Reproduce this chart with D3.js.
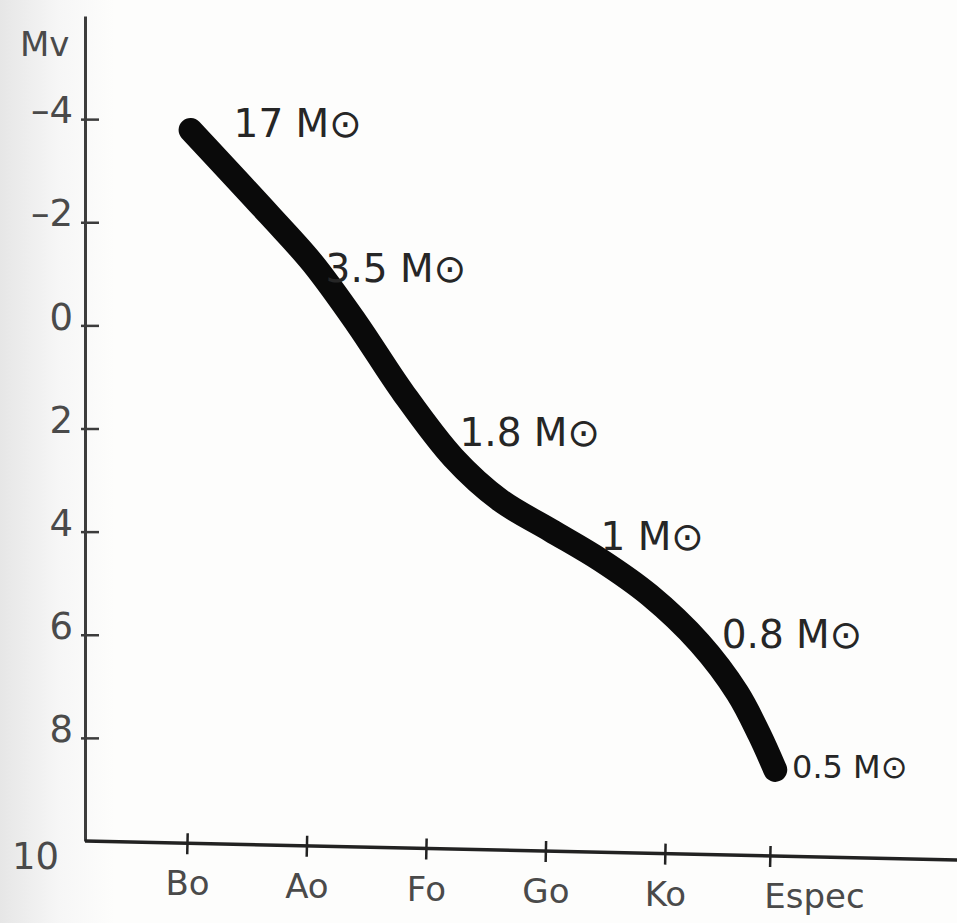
<!DOCTYPE html>
<html>
<head>
<meta charset="utf-8">
<script src="https://cdn.jsdelivr.net/npm/d3@7"></script>
<style>
  html, body { margin: 0; padding: 0; background: #fdfdfc; }
  svg { display: block; }
  .tick-label, .axis text { font-family: "DejaVu Sans", sans-serif; fill: #4a4a4a; }
  .mass-label { font-family: "DejaVu Sans", sans-serif; fill: #262626; }
</style>
</head>
<body>
<svg id="chart"></svg>
<script>
// spectral types on the x axis (index 0..5)
const specTypes = ["Bo", "Ao", "Fo", "Go", "Ko", "Espec"];
const specIdx = [0, 1, 2, 3, 4, 5];

// absolute magnitude ticks
const mvTicks = [-4, -2, 0, 2, 4, 6, 8, 10];

// main sequence curve (spectral index, Mv)
const curveIdx = [0.03, 0.69, 1.05, 1.42, 1.81, 2.23, 2.62, 3.04, 3.46, 3.87, 4.33, 4.69, 4.90, 5.05];
const curveMv  = [-3.79, -2.14, -1.21, -0.04, 1.31, 2.57, 3.39, 3.97, 4.55, 5.23, 6.16, 7.13, 7.94, 8.62];

// mass annotations along the curve
const masses   = ["17 M⊙", "3.5 M⊙", "1.8 M⊙", "1 M⊙", "0.8 M⊙", "0.5 M⊙"];
const labelIdx = [0.39, 1.16, 2.28, 3.46, 4.54, 5.21];
const labelMv  = [-3.65, -0.84, 2.34, 4.36, 6.26, 8.78];

const W = 957, H = 923;

const svg = d3.select("#chart")
  .attr("width", W)
  .attr("height", H)
  .attr("viewBox", `0 0 ${W} ${H}`);

// scanned-paper shading on the left edge
const defs = svg.append("defs");
const shade = defs.append("linearGradient").attr("id", "paper");
shade.append("stop").attr("offset", "0%").attr("stop-color", "#e6e6e6");
shade.append("stop").attr("offset", "6%").attr("stop-color", "#f6f6f6");
shade.append("stop").attr("offset", "12%").attr("stop-color", "#fdfdfc");
shade.append("stop").attr("offset", "100%").attr("stop-color", "#fdfdfc");
svg.append("rect").attr("width", W).attr("height", H).attr("fill", "url(#paper)");

// hand-drawn ticks are a bit uneven, so x is piecewise
const x = d3.scaleLinear().domain([0, 4, 5]).range([187, 665, 770]);
const y = d3.scaleLinear().domain([-6, 10]).range([16, 841]);

const x0 = 85;

// y axis
const yAxis = svg.append("g")
  .attr("class", "axis")
  .attr("transform", `translate(${x0},0)`)
  .call(d3.axisLeft(y)
    .tickValues(mvTicks)
    .tickSizeInner(-14)
    .tickSizeOuter(0)
    .tickPadding(12)
    .tickFormat(d => d < 0 ? "\u2013" + Math.abs(d) : d));

yAxis.select(".domain").attr("stroke", "#3c3c3c").attr("stroke-width", 3);
yAxis.selectAll(".tick line").attr("stroke", "#3c3c3c").attr("stroke-width", 2.5)
  .attr("x1", -4);
yAxis.selectAll(".tick text")
  .attr("font-size", 37)
  .attr("fill", "#4a4a4a")
  .attr("dy", "0.1em");
yAxis.selectAll(".tick").filter(d => d === 10).select("line").remove();
yAxis.selectAll(".tick").filter(d => d === 10).select("text")
  .attr("x", -26).attr("dy", "0.75em");

svg.append("text")
  .attr("class", "tick-label")
  .attr("x", 20)
  .attr("y", 56)
  .attr("font-size", 34)
  .text("Mv");

// x axis, slightly tilted like the sketch
const tilt = Math.atan2(19, 872) * 180 / Math.PI;
const xg = svg.append("g")
  .attr("transform", `translate(0,${y(10)}) rotate(${tilt},${x0},0)`);

xg.append("line")
  .attr("x1", x0)
  .attr("x2", W + 10)
  .attr("stroke", "#222")
  .attr("stroke-width", 3.5);

const xAxis = xg.append("g")
  .attr("class", "axis")
  .call(d3.axisBottom(x)
    .tickValues(specIdx)
    .tickSizeOuter(0)
    .tickSizeInner(11)
    .tickPadding(17)
    .tickFormat((d, i) => specTypes[i]));

xAxis.select(".domain").remove();
xAxis.selectAll(".tick line").attr("y1", -10).attr("stroke", "#222").attr("stroke-width", 2.5);
xAxis.selectAll(".tick text")
  .attr("font-size", 34)
  .attr("fill", "#4a4a4a")
  .attr("transform", `rotate(${-tilt})`);
xAxis.selectAll(".tick").filter(d => d === 5).select("text")
  .attr("text-anchor", "start")
  .attr("x", -6);

// the main sequence band
const pts = curveIdx.map((d, i) => [d, curveMv[i]]);
const line = d3.line()
  .x(d => x(d[0]))
  .y(d => y(d[1]))
  .curve(d3.curveCatmullRom.alpha(0.5));

svg.append("path")
  .datum(pts)
  .attr("d", line)
  .attr("fill", "none")
  .attr("stroke", "#0a0a0a")
  .attr("stroke-width", 24)
  .attr("stroke-linecap", "round")
  .attr("stroke-linejoin", "round");

// masses
svg.selectAll(".mass-label")
  .data(masses)
  .join("text")
  .attr("class", "mass-label")
  .attr("x", (d, i) => x(labelIdx[i]))
  .attr("y", (d, i) => y(labelMv[i]))
  .attr("font-size", (d, i) => i === masses.length - 1 ? 32 : 39)
  .text(d => d);
</script>
</body>
</html>
